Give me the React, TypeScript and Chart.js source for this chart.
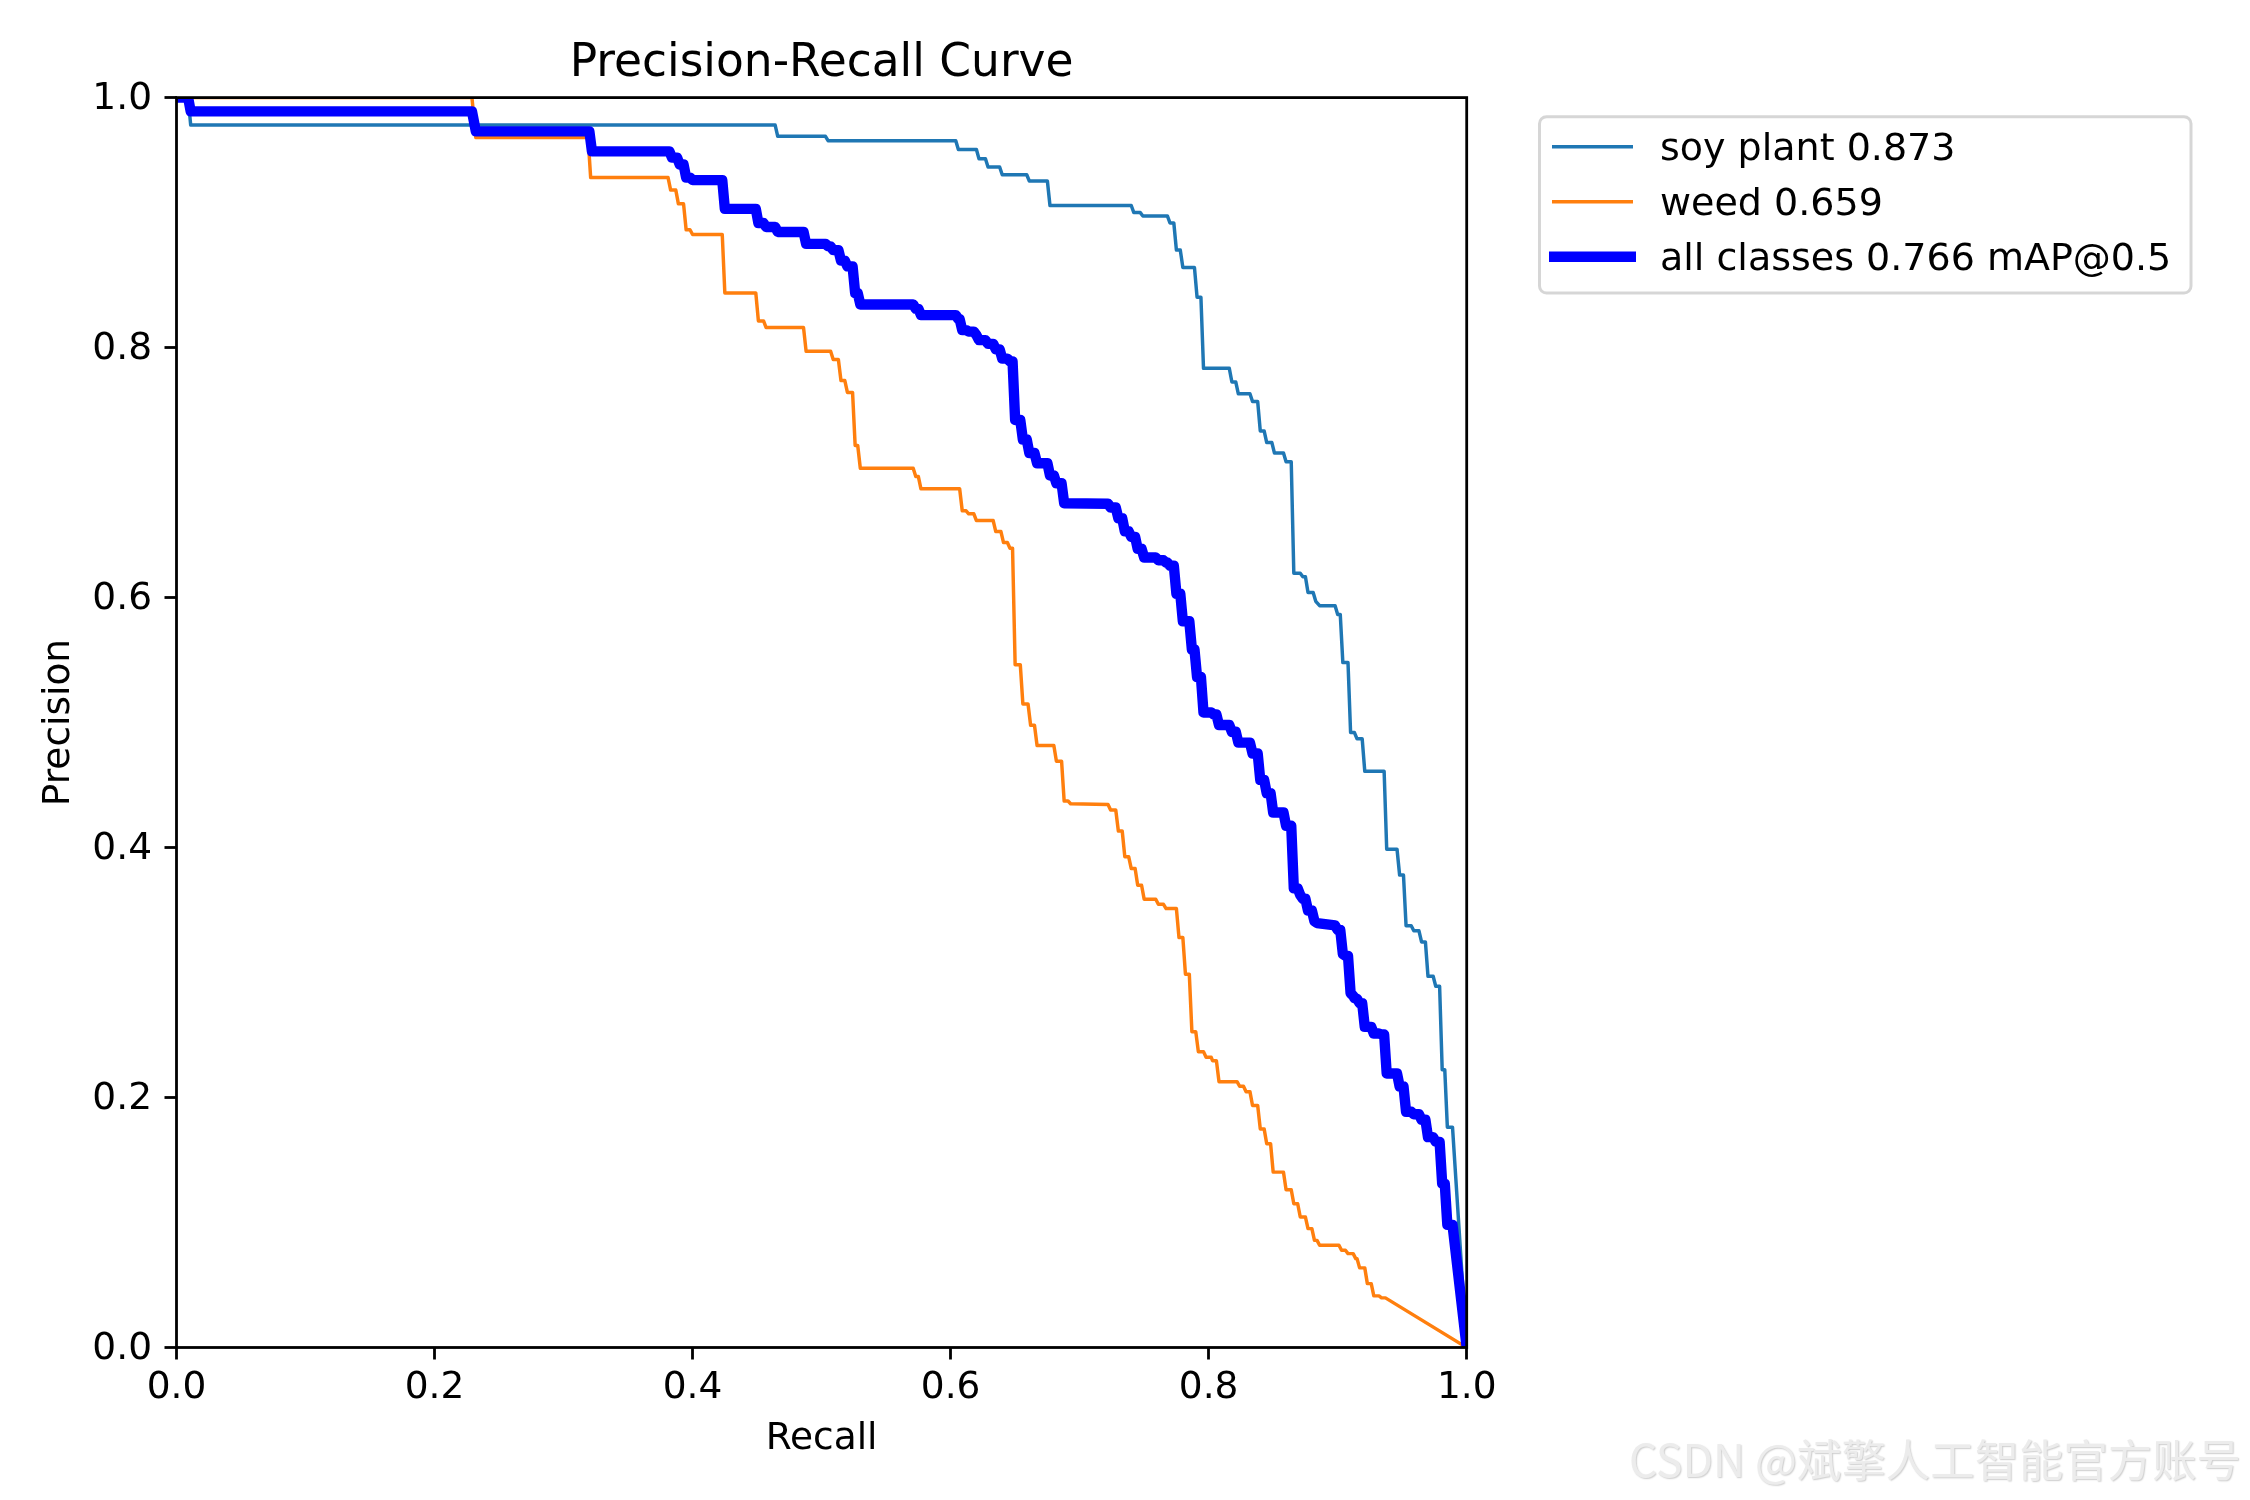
import React, { useEffect, useRef } from "react";
import { Chart, registerables } from "chart.js";

Chart.register(...registerables);

const chartTitle = "Precision-Recall Curve";
const xAxisTitle = "Recall";
const yAxisTitle = "Precision";
const watermarkText = "CSDN @斌擎人工智能官方账号";
const tickValues = [0, 0.2, 0.4, 0.6, 0.8, 1.0];
const seriesLabels = ["soy plant 0.873", "weed 0.659", "all classes 0.766 mAP@0.5"];
const seriesColors = ["#1f77b4", "#ff7f0e", "#0000ff"];

// [recall, precision]
const soyCurve: number[][] = [
  [0, 1.0], [0.009, 1.0], [0.011, 0.978], [0.464, 0.978], [0.466, 0.969], [0.503, 0.969],
  [0.505, 0.9655], [0.604, 0.9655], [0.606, 0.9585], [0.62, 0.9585], [0.622, 0.951], [0.627, 0.951],
  [0.629, 0.9445], [0.638, 0.9445], [0.64, 0.9383], [0.659, 0.9383], [0.661, 0.9333], [0.675, 0.9333],
  [0.677, 0.9137], [0.74, 0.9137], [0.742, 0.908], [0.747, 0.908], [0.749, 0.9053], [0.768, 0.9053],
  [0.77, 0.8997], [0.773, 0.8997], [0.775, 0.878], [0.778, 0.878], [0.78, 0.864], [0.789, 0.864],
  [0.791, 0.8403], [0.794, 0.8403], [0.796, 0.7834], [0.816, 0.7834], [0.818, 0.7725], [0.821, 0.7725],
  [0.823, 0.763], [0.832, 0.763], [0.834, 0.7568], [0.838, 0.7568], [0.84, 0.7333], [0.843, 0.7333],
  [0.845, 0.724], [0.849, 0.724], [0.851, 0.7156], [0.858, 0.7156], [0.86, 0.7086], [0.864, 0.7086],
  [0.866, 0.6195], [0.871, 0.6195], [0.873, 0.6167], [0.875, 0.6167], [0.877, 0.604], [0.881, 0.604],
  [0.883, 0.597], [0.886, 0.5935], [0.898, 0.5935], [0.9, 0.5865], [0.902, 0.5865], [0.904, 0.548],
  [0.908, 0.548], [0.91, 0.492], [0.913, 0.492], [0.915, 0.487], [0.919, 0.487], [0.921, 0.461],
  [0.936, 0.461], [0.938, 0.3986], [0.946, 0.3986], [0.948, 0.378], [0.951, 0.378], [0.953, 0.3374],
  [0.957, 0.3374], [0.959, 0.3334], [0.963, 0.3334], [0.965, 0.3245], [0.968, 0.3245], [0.97, 0.297],
  [0.974, 0.297], [0.976, 0.289], [0.979, 0.289], [0.981, 0.2223], [0.983, 0.2223], [0.985, 0.1763],
  [0.989, 0.1763], [1.0, 0.0],
];

const weedCurve: number[][] = [
  [0, 1.0], [0.229, 1.0], [0.232, 0.968], [0.319, 0.968], [0.321, 0.936], [0.381, 0.936],
  [0.383, 0.926], [0.387, 0.926], [0.389, 0.915], [0.393, 0.915], [0.395, 0.8943], [0.398, 0.8943],
  [0.4, 0.8905], [0.423, 0.8905], [0.425, 0.8437], [0.449, 0.8437], [0.451, 0.8213], [0.455, 0.8213],
  [0.457, 0.816], [0.486, 0.816], [0.488, 0.797], [0.507, 0.797], [0.509, 0.7904], [0.513, 0.7904],
  [0.515, 0.7736], [0.518, 0.7736], [0.52, 0.7641], [0.524, 0.7641], [0.526, 0.7217], [0.528, 0.7217],
  [0.53, 0.7035], [0.571, 0.7035], [0.573, 0.6968], [0.575, 0.6968], [0.577, 0.687], [0.607, 0.687],
  [0.609, 0.6694], [0.612, 0.6694], [0.614, 0.667], [0.618, 0.667], [0.62, 0.6616], [0.633, 0.6616],
  [0.635, 0.6528], [0.639, 0.6528], [0.641, 0.644], [0.644, 0.644], [0.646, 0.6395], [0.648, 0.6395],
  [0.65, 0.5463], [0.654, 0.5463], [0.656, 0.5149], [0.66, 0.5149], [0.662, 0.4979], [0.665, 0.4979],
  [0.667, 0.4817], [0.68, 0.4817], [0.682, 0.4691], [0.686, 0.4691], [0.688, 0.4372], [0.691, 0.4372],
  [0.693, 0.435], [0.722, 0.4345], [0.724, 0.43], [0.728, 0.43], [0.73, 0.4132], [0.733, 0.4132],
  [0.735, 0.3927], [0.738, 0.3927], [0.74, 0.3832], [0.743, 0.3832], [0.745, 0.3698], [0.748, 0.3698],
  [0.75, 0.3587], [0.759, 0.3587], [0.761, 0.3546], [0.765, 0.3546], [0.767, 0.3512], [0.775, 0.3512],
  [0.777, 0.328], [0.78, 0.328], [0.782, 0.2987], [0.785, 0.2987], [0.787, 0.2527], [0.79, 0.2527],
  [0.792, 0.2367], [0.796, 0.2367], [0.798, 0.2322], [0.802, 0.2322], [0.803, 0.2295], [0.806, 0.2295],
  [0.808, 0.2127], [0.822, 0.2127], [0.824, 0.209], [0.827, 0.209], [0.829, 0.2047], [0.832, 0.2047],
  [0.834, 0.1936], [0.838, 0.1936], [0.84, 0.1749], [0.843, 0.1749], [0.845, 0.163], [0.848, 0.163],
  [0.85, 0.1403], [0.858, 0.1403], [0.86, 0.1262], [0.864, 0.1262], [0.866, 0.115], [0.869, 0.115],
  [0.871, 0.1044], [0.875, 0.1044], [0.877, 0.0951], [0.88, 0.0951], [0.882, 0.0857], [0.884, 0.0857],
  [0.886, 0.0818], [0.901, 0.0818], [0.903, 0.0778], [0.906, 0.0778], [0.908, 0.0751], [0.912, 0.0751],
  [0.914, 0.0711], [0.915, 0.0711], [0.917, 0.0637], [0.921, 0.0637], [0.923, 0.0511], [0.926, 0.0511],
  [0.928, 0.0413], [0.932, 0.0413], [0.934, 0.0397], [0.937, 0.0397], [1.0, 0.0],
];

const allCurve: number[][] = [
  [0, 1.0], [0.009, 1.0], [0.011, 0.989], [0.229, 0.989], [0.232, 0.973], [0.32, 0.973],
  [0.322, 0.957], [0.382, 0.957], [0.384, 0.952], [0.388, 0.952], [0.39, 0.9465], [0.393, 0.9465],
  [0.395, 0.936], [0.398, 0.936], [0.4, 0.934], [0.423, 0.934], [0.425, 0.911], [0.449, 0.911],
  [0.451, 0.8997], [0.455, 0.8997], [0.457, 0.8965], [0.464, 0.8965], [0.466, 0.8925], [0.486, 0.8925],
  [0.488, 0.883], [0.503, 0.883], [0.505, 0.881], [0.507, 0.881], [0.509, 0.878], [0.513, 0.878],
  [0.515, 0.8696], [0.518, 0.8696], [0.52, 0.865], [0.524, 0.865], [0.526, 0.8436], [0.528, 0.8436],
  [0.53, 0.8345], [0.571, 0.8345], [0.573, 0.831], [0.575, 0.831], [0.577, 0.826], [0.604, 0.826],
  [0.606, 0.8228], [0.607, 0.8228], [0.609, 0.814], [0.612, 0.814], [0.614, 0.8128], [0.618, 0.8128],
  [0.62, 0.81], [0.622, 0.806], [0.627, 0.806], [0.629, 0.803], [0.633, 0.803], [0.635, 0.7986],
  [0.638, 0.7986], [0.64, 0.7912], [0.644, 0.7912], [0.646, 0.789], [0.648, 0.789], [0.65, 0.742],
  [0.654, 0.742], [0.656, 0.7265], [0.659, 0.7265], [0.661, 0.7156], [0.665, 0.7156], [0.667, 0.7075],
  [0.675, 0.7075], [0.677, 0.6977], [0.68, 0.6977], [0.682, 0.6914], [0.686, 0.6914], [0.688, 0.6755],
  [0.722, 0.675], [0.724, 0.672], [0.728, 0.672], [0.73, 0.6635], [0.733, 0.6635], [0.735, 0.653],
  [0.738, 0.653], [0.74, 0.6485], [0.743, 0.6485], [0.745, 0.639], [0.748, 0.639], [0.75, 0.632],
  [0.759, 0.632], [0.761, 0.6298], [0.765, 0.6298], [0.767, 0.628], [0.768, 0.628], [0.77, 0.6255],
  [0.773, 0.6255], [0.775, 0.603], [0.778, 0.603], [0.78, 0.581], [0.785, 0.581], [0.787, 0.5585],
  [0.789, 0.5585], [0.791, 0.5365], [0.794, 0.5365], [0.796, 0.508], [0.802, 0.508], [0.804, 0.5065],
  [0.806, 0.5065], [0.808, 0.498], [0.816, 0.498], [0.818, 0.4926], [0.821, 0.4926], [0.823, 0.4839],
  [0.832, 0.4839], [0.834, 0.4752], [0.838, 0.4752], [0.84, 0.4541], [0.843, 0.4541], [0.845, 0.4435],
  [0.848, 0.4435], [0.85, 0.428], [0.858, 0.428], [0.86, 0.4174], [0.864, 0.4174], [0.866, 0.3673],
  [0.869, 0.3673], [0.871, 0.362], [0.873, 0.359], [0.875, 0.359], [0.877, 0.3496], [0.88, 0.3496],
  [0.882, 0.341], [0.884, 0.3396], [0.898, 0.3377], [0.9, 0.334], [0.902, 0.334], [0.904, 0.3148],
  [0.906, 0.3133], [0.908, 0.3133], [0.91, 0.2835], [0.912, 0.2815], [0.913, 0.2795], [0.915, 0.279],
  [0.917, 0.2754], [0.919, 0.2754], [0.921, 0.2565], [0.926, 0.2565], [0.928, 0.2512], [0.932, 0.2512],
  [0.934, 0.2504], [0.936, 0.2504], [0.938, 0.2192], [0.946, 0.2192], [0.948, 0.2089], [0.951, 0.2089],
  [0.953, 0.1886], [0.957, 0.1886], [0.959, 0.1866], [0.963, 0.1866], [0.965, 0.1822], [0.968, 0.1822],
  [0.97, 0.1683], [0.974, 0.1683], [0.976, 0.1645], [0.979, 0.1645], [0.981, 0.1311], [0.983, 0.1311],
  [0.985, 0.0981], [0.989, 0.0981], [1.0, 0.0],
];

const FONT = "DejaVu Sans";
const TEXT_SIZE = 37.5;
const LEGEND_SIZE = 38;
const TITLE_SIZE = 45.5;

const toPoints = (curve: number[][]) => curve.map(([x, y]) => ({ x, y }));

const framePlugin = {
  id: "mplFrame",
  afterDatasetsDraw(chart: any) {
    const { ctx, chartArea } = chart;
    ctx.save();
    ctx.strokeStyle = "#000";
    ctx.lineWidth = 2.8;
    ctx.lineJoin = "miter";
    ctx.strokeRect(chartArea.left, chartArea.top, chartArea.right - chartArea.left, chartArea.bottom - chartArea.top);
    ctx.restore();
  },
};

const legendPlugin = {
  id: "mplLegend",
  afterDraw(chart: any) {
    const ctx = chart.ctx;
    const x = 1539.5, y = 116.7, w = 651.5, h = 176.3, r = 7;
    ctx.save();
    ctx.beginPath();
    ctx.moveTo(x + r, y);
    ctx.lineTo(x + w - r, y);
    ctx.arcTo(x + w, y, x + w, y + r, r);
    ctx.lineTo(x + w, y + h - r);
    ctx.arcTo(x + w, y + h, x + w - r, y + h, r);
    ctx.lineTo(x + r, y + h);
    ctx.arcTo(x, y + h, x, y + h - r, r);
    ctx.lineTo(x, y + r);
    ctx.arcTo(x, y, x + r, y, r);
    ctx.closePath();
    ctx.fillStyle = "rgba(255,255,255,0.8)";
    ctx.fill();
    ctx.lineWidth = 3;
    ctx.strokeStyle = "rgba(204,204,204,0.8)";
    ctx.stroke();
    chart.data.datasets.forEach((ds: any, i: number) => {
      const rowY = 146.7 + i * 55;
      const thick = ds.borderWidth > 5;
      ctx.beginPath();
      ctx.moveTo(thick ? 1549 : 1552, rowY);
      ctx.lineTo(thick ? 1636 : 1633, rowY);
      ctx.strokeStyle = ds.borderColor;
      ctx.lineWidth = ds.borderWidth;
      ctx.lineCap = "butt";
      ctx.stroke();
      ctx.fillStyle = "#000";
      ctx.font = `${LEGEND_SIZE}px "${FONT}"`;
      ctx.textBaseline = "alphabetic";
      ctx.textAlign = "left";
      ctx.fillText(ds.label, 1660, rowY + 13);
    });
    ctx.restore();
  },
};

const watermarkPlugin = {
  id: "watermark",
  afterDraw(chart: any) {
    const ctx = chart.ctx;
    ctx.save();
    ctx.font = `44.4px "Noto Sans CJK SC"`;
    ctx.textAlign = "right";
    ctx.textBaseline = "alphabetic";
    ctx.shadowColor = "rgba(0,0,0,0.2)";
    ctx.shadowOffsetX = 1;
    ctx.shadowOffsetY = 1;
    ctx.shadowBlur = 1.5;
    ctx.fillStyle = "#ececec";
    ctx.fillText(watermarkText, 2241, 1477);
    ctx.restore();
  },
};

export default function App() {
  const canvasRef = useRef<HTMLCanvasElement | null>(null);

  useEffect(() => {
    const canvas = canvasRef.current;
    if (!canvas) return;
    const curves = [soyCurve, weedCurve, allCurve];
    const widths = [3.47, 3.47, 10.4];
    const orders = [2, 1, 0];
    const tickFont = { family: FONT, size: TEXT_SIZE };
    const chart = new Chart(canvas, {
      type: "line",
      data: {
        datasets: curves.map((c, i) => ({
          label: seriesLabels[i],
          data: toPoints(c),
          borderColor: seriesColors[i],
          backgroundColor: seriesColors[i],
          borderWidth: widths[i],
          pointRadius: 0,
          pointHoverRadius: 0,
          fill: false,
          tension: 0,
          order: orders[i],
          clip: 0,
          borderJoinStyle: "round",
          borderCapStyle: "butt",
        })),
      },
      options: {
        animation: false,
        responsive: false,
        devicePixelRatio: 1,
        events: [],
        layout: { padding: { left: 0, right: 783.3, top: 0, bottom: 0 } },
        plugins: {
          legend: { display: false },
          tooltip: { enabled: false },
          title: {
            display: true,
            text: chartTitle,
            color: "#000",
            fullSize: false,
            font: { family: FONT, size: TITLE_SIZE, weight: "normal" },
            padding: { top: 36.5, bottom: 6.5 },
          },
        },
        scales: {
          x: {
            type: "linear",
            min: 0,
            max: 1,
            afterBuildTicks: (s: any) => {
              s.ticks = tickValues.map((v) => ({ value: v }));
            },
            afterFit: (s: any) => {
              s.height = 152.5;
            },
            ticks: {
              color: "#000",
              font: tickFont,
              padding: 6.4,
              maxRotation: 0,
              autoSkip: false,
              callback: (v: any) => Number(v).toFixed(1),
            },
            grid: {
              display: true,
              drawOnChartArea: false,
              drawTicks: true,
              tickLength: 12,
              tickWidth: 2.8,
              tickColor: "#000",
            },
            border: { display: false },
            title: {
              display: true,
              text: xAxisTitle,
              color: "#000",
              font: tickFont,
              padding: { top: 0, bottom: 38.5 },
            },
          },
          y: {
            type: "linear",
            min: 0,
            max: 1,
            afterBuildTicks: (s: any) => {
              s.ticks = tickValues.map((v) => ({ value: v }));
            },
            afterFit: (s: any) => {
              s.width = 176.5;
            },
            ticks: {
              color: "#000",
              font: tickFont,
              padding: 12.5,
              labelOffset: 2,
              autoSkip: false,
              callback: (v: any) => Number(v).toFixed(1),
            },
            grid: {
              display: true,
              drawOnChartArea: false,
              drawTicks: true,
              tickLength: 12,
              tickWidth: 2.8,
              tickColor: "#000",
            },
            border: { display: false },
            title: {
              display: true,
              text: yAxisTitle,
              color: "#000",
              font: tickFont,
              padding: { top: 36.5, bottom: 0 },
            },
          },
        },
      },
      plugins: [framePlugin, legendPlugin, watermarkPlugin],
    } as any);
    return () => chart.destroy();
  }, []);

  return (
    <div style={{ position: "absolute", left: 0, top: 0, width: 2250, height: 1500, background: "#fff" }}>
      <canvas ref={canvasRef} width={2250} height={1500} style={{ display: "block", width: 2250, height: 1500 }} />
    </div>
  );
}
